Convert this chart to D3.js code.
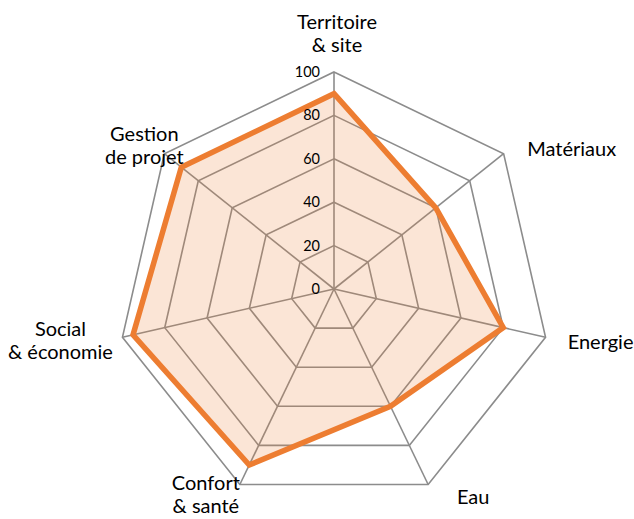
<!DOCTYPE html>
<html>
<head>
<meta charset="utf-8">
<script src="https://cdn.jsdelivr.net/npm/d3@7"></script>
<style>
  body { margin: 0; background: #fff; }
  svg { display: block; }
  .axis-label { font-family: Lato, "Open Sans", sans-serif; font-size: 20px; fill: #000; }
  .tick-label { font-family: Lato, "Open Sans", sans-serif; font-size: 14.5px; fill: #000; }
</style>
</head>
<body>
<div id="chart"></div>
<script>
/* global d3 */
var categories = [
  [ "Territoire", "& site" ],
  [ "Matériaux" ],
  [ "Energie" ],
  [ "Eau" ],
  [ "Confort", "& santé" ],
  [ "Social", "& économie" ],
  [ "Gestion", "de projet" ]
];
var scores = [ 90, 60, 80, 60, 90, 95, 90 ];
var tickValues = [ 0, 20, 40, 60, 80, 100 ];

// label nudges relative to the outer vertex (layout only)
var labelNudge = [ [ 3, -39 ], [ 68, -5 ], [ 55, 5 ], [ 45, 12 ], [ -34, 10 ], [ -62, 3 ], [ -20, -8 ] ];

var width = 634;
var height = 519;
var cx = 334;
var cy = 289;
var radius = 217;

var svg = d3.select( "#chart" ).append( "svg" )
  .attr( "width", width )
  .attr( "height", height );

var r = d3.scaleLinear().domain( [ 0, 100 ] ).range( [ 0, radius ] );
var angle = d3.scaleLinear().domain( [ 0, categories.length ] ).range( [ 0, 2 * Math.PI ] );

function pt( i, v ) {
  var a = angle( i );
  return [ cx + r( v ) * Math.sin( a ), cy - r( v ) * Math.cos( a ) ];
}

var idx = d3.range( categories.length );
var line = d3.line().curve( d3.curveLinearClosed );

var g = svg.append( "g" );

// rings
g.selectAll( ".ring" )
  .data( tickValues.slice( 1 ) )
  .enter().append( "path" )
  .attr( "class", "ring" )
  .attr( "d", function ( t ) { return line( idx.map( function ( i ) { return pt( i, t ); } ) ); } )
  .attr( "fill", "none" )
  .attr( "stroke", "#8c8c8c" )
  .attr( "stroke-width", 1.6 );

// spokes
g.selectAll( ".spoke" )
  .data( idx )
  .enter().append( "line" )
  .attr( "class", "spoke" )
  .attr( "x1", cx )
  .attr( "y1", cy )
  .attr( "x2", function ( i ) { return pt( i, 100 )[0]; } )
  .attr( "y2", function ( i ) { return pt( i, 100 )[1]; } )
  .attr( "stroke", "#8c8c8c" )
  .attr( "stroke-width", 1.6 );

// series
var seriesPts = scores.map( function ( v, i ) { return pt( i, v ); } );
g.append( "path" )
  .attr( "d", line( seriesPts ) )
  .attr( "fill", "#ED7D31" )
  .attr( "fill-opacity", 0.2 )
  .attr( "stroke", "none" );
g.append( "path" )
  .attr( "d", line( seriesPts ) )
  .attr( "fill", "none" )
  .attr( "stroke", "#ED7D31" )
  .attr( "stroke-width", 5.5 )
  .attr( "stroke-linejoin", "miter" );

// tick labels along the first axis
g.selectAll( ".tick-label" )
  .data( tickValues )
  .enter().append( "text" )
  .attr( "class", "tick-label" )
  .attr( "x", cx - 14 )
  .attr( "y", function ( t ) { return cy - r( t ) + 5; } )
  .attr( "text-anchor", "end" )
  .text( function ( t ) { return t; } );

// category labels
var lineH = 23;
var labels = g.selectAll( ".axis-label" )
  .data( idx )
  .enter().append( "text" )
  .attr( "class", "axis-label" )
  .attr( "text-anchor", "middle" )
  .attr( "transform", function ( i ) {
    var p = pt( i, 100 );
    var n = categories[i].length;
    var x = p[0] + labelNudge[i][0];
    var y = p[1] + labelNudge[i][1] - ( n - 1 ) * lineH / 2 + 7;
    return "translate(" + x + "," + y + ")";
  } );

labels.selectAll( "tspan" )
  .data( function ( i ) { return categories[i]; } )
  .enter().append( "tspan" )
  .attr( "x", 0 )
  .attr( "y", function ( d, j ) { return j * lineH; } )
  .text( function ( d ) { return d; } );
</script>
</body>
</html>
